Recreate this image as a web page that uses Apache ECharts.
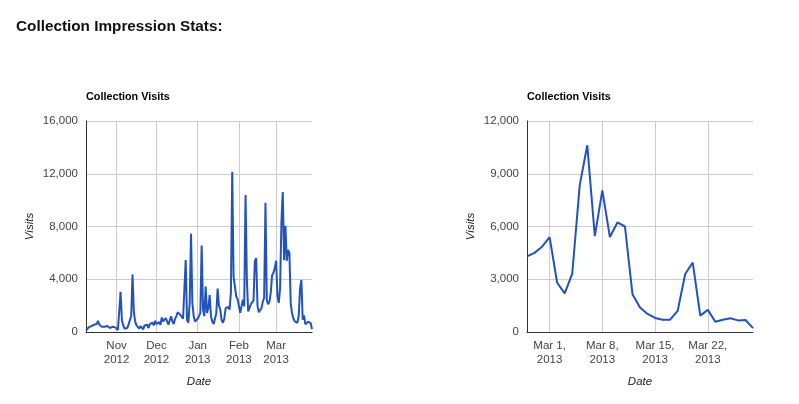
<!DOCTYPE html>
<html>
<head>
<meta charset="utf-8">
<script src="https://cdn.jsdelivr.net/npm/echarts@6/dist/echarts.min.js"></script>
<style>
html,body{margin:0;padding:0;background:#fff;}
#c{width:799px;height:404px;}
</style>
</head>
<body>
<div id="c"></div>
<script>
// ---- data (daily Collection Visits) ----
const pageTitle = 'Collection Impression Stats:';
const chartTitle = 'Collection Visits';
const longStart = [2012, 10, 9];   // Oct 9, 2012
const shortStart = [2013, 2, 26];  // Feb 26, 2013
const octVisits = [100,250,350,200,450,300,550,450,600,850,550,450,400,450,400,350,450,400,300,200,400,250,350];
const novVisits = [300,150,300,3050,900,500,250,200,300,550,900,1200,4350,1500,800,500,400,250,450,350,200,500,350,550,300,600,450,700,500,850];
const decVisits = [600,450,750,550,1100,800,650,1050,900,550,700,1200,800,600,1000,1200,1500,1450,1300,1150,1000,900,5450,900,700,2200,7450,2200,1200,800,850];
const janVisits = [1000,1200,1450,6550,1700,1200,3450,1450,1800,2800,1200,800,600,700,1400,3300,2000,1700,900,700,1000,1800,1700,1900,1700,3000,12150,4200,4100,2700,2500];
const febVisits = [2600,1450,1300,2450,1950,10380,4000,1560,1450,2100,1950,2400,5350,5600,2000,1500,1400,1800,2300,2600,9800,2400,2100,2300,3000];
const recentVisits = [4300,4500,4850,5400,2800,2200,3300,8350,10620,5450,8050,5400,6230,6000,2150,1400,1030,800,700,700,1200,3300,3950,930,1260,580,700,780,660,680,220];
const leftYTicks = {min:0, max:16000, interval:4000};
const rightYTicks = {min:0, max:12000, interval:3000};
const monthNames = ['Jan','Feb','Mar','Apr','May','Jun','Jul','Aug','Sep','Oct','Nov','Dec'];
const weekLabelDays = [1, 8, 15, 22];

// ---- build categories ----
const longVisits = [].concat(octVisits, novVisits, decVisits, janVisits, febVisits, recentVisits);
function dateList(start, n){
  const out = [];
  const t0 = Date.UTC(start[0], start[1]-1, start[2]);
  for (let i = 0; i < n; i++) {
    const d = new Date(t0 + i*86400000);
    out.push(d.getUTCFullYear() + '-' + (d.getUTCMonth()+1) + '-' + d.getUTCDate());
  }
  return out;
}
const longDates = dateList(longStart, longVisits.length);
const shortDates = dateList(shortStart, recentVisits.length);
function parts(s){ const p = s.split('-').map(Number); return {y:p[0], m:p[1], d:p[2]}; }
const isMonthStart = (i, v) => parts(v).d === 1;
const isWeekMark = (i, v) => weekLabelDays.indexOf(parts(v).d) >= 0;

const FONT = "'Liberation Sans', Arial, sans-serif";
const LINE = '#2452bd';
const GRID = '#cccccc';
const AXIS = '#333333';
const LABEL = '#444444';

function xAxisCfg(gridIndex, cats, filter, fmt){
  return {
    type:'category', gridIndex, data:cats, boundaryGap:false,
    name:'Date', nameLocation:'middle', nameGap:44,
    nameTextStyle:{fontFamily:FONT, fontSize:11.5, fontStyle:'italic', color:'#222'},
    axisLine:{show:true, lineStyle:{color:AXIS, width:1}},
    axisTick:{show:false},
    axisLabel:{interval:filter, formatter:fmt, margin:7, color:LABEL, fontFamily:FONT, fontSize:11.5, lineHeight:14, align:'center'},
    splitLine:{show:true, interval:filter, lineStyle:{color:GRID, width:1}}
  };
}
function yAxisCfg(gridIndex, t){
  return {
    type:'value', gridIndex, min:t.min, max:t.max, interval:t.interval,
    name:'Visits', nameLocation:'middle', nameGap:50, nameRotate:90,
    nameTextStyle:{fontFamily:FONT, fontSize:11.5, fontStyle:'italic', color:'#222'},
    axisLine:{show:true, lineStyle:{color:AXIS, width:1}},
    axisTick:{show:false},
    axisLabel:{margin:8, color:LABEL, fontFamily:FONT, fontSize:11.5,
      formatter:v => v.toLocaleString('en-US')},
    splitLine:{show:true, lineStyle:{color:GRID, width:1}}
  };
}

const chart = echarts.init(document.getElementById('c'), null, {renderer:'canvas'});
chart.setOption({
  animation:false,
  backgroundColor:'#ffffff',
  title:[
    {text:pageTitle, left:16, top:19, padding:0, textStyle:{fontFamily:FONT, fontSize:15.3, fontWeight:'bold', color:'#111'}},
    {text:chartTitle, left:86, top:92, padding:0, textStyle:{fontFamily:FONT, fontSize:10.8, fontWeight:'bold', color:'#000'}},
    {text:chartTitle, left:527, top:92, padding:0, textStyle:{fontFamily:FONT, fontSize:10.8, fontWeight:'bold', color:'#000'}}
  ],
  grid:[
    {left:86, top:121, width:226, height:211},
    {left:527, top:121, width:226, height:211}
  ],
  xAxis:[
    xAxisCfg(0, longDates, isMonthStart, v => { const p = parts(v); return monthNames[p.m-1] + '\n' + p.y; }),
    xAxisCfg(1, shortDates, isWeekMark, v => { const p = parts(v); return monthNames[p.m-1] + ' ' + p.d + ',\n' + p.y; })
  ],
  yAxis:[ yAxisCfg(0, leftYTicks), yAxisCfg(1, rightYTicks) ],
  series:[
    {type:'line', xAxisIndex:0, yAxisIndex:0, data:longVisits, showSymbol:false, symbol:'none',
     lineStyle:{color:LINE, width:2}, itemStyle:{color:LINE}},
    {type:'line', xAxisIndex:1, yAxisIndex:1, data:recentVisits, showSymbol:false, symbol:'none',
     lineStyle:{color:LINE, width:2}, itemStyle:{color:LINE}}
  ]
});
</script>
</body>
</html>
